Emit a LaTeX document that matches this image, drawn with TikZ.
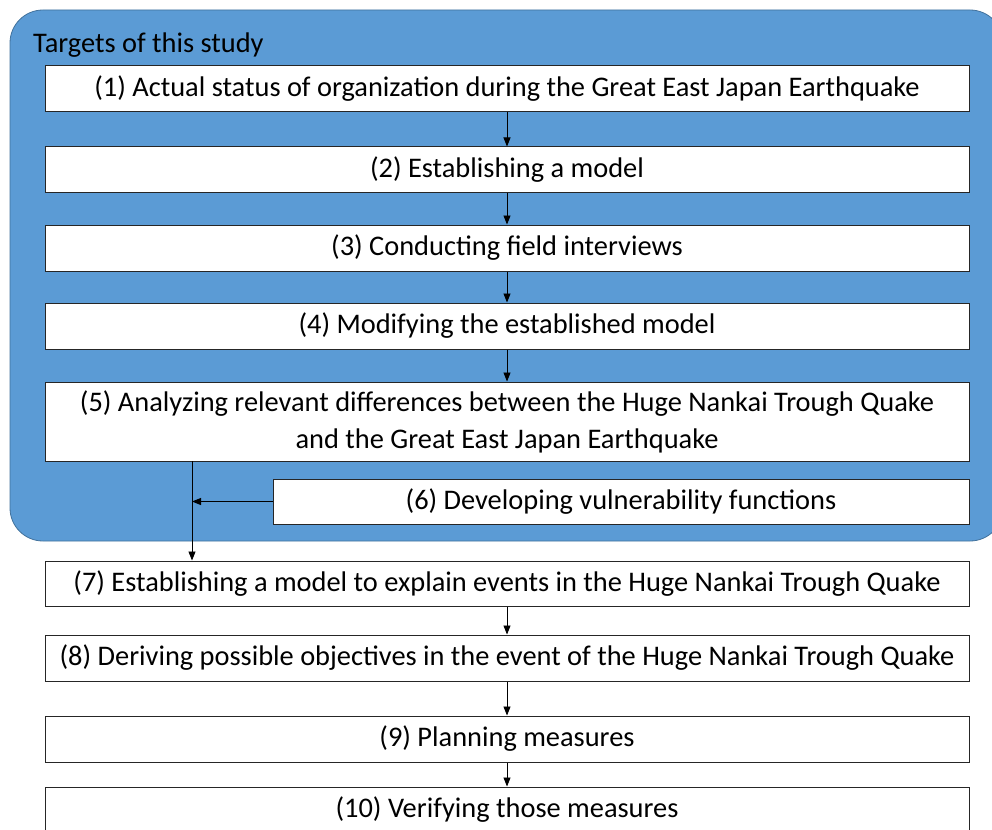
\documentclass[tikz,border=0pt]{standalone}
\usepackage{fontspec}
\setmainfont{Carlito}
\usetikzlibrary{arrows.meta}
\definecolor{panelblue}{HTML}{5B9BD5}
\definecolor{paneledge}{HTML}{41719C}
\definecolor{boxedge}{HTML}{262626}
\begin{document}
\begin{tikzpicture}[x=1pt,y=-1pt,
  stepbox/.style={draw=boxedge,line width=1pt,fill=white,inner sep=0pt,
    minimum width=924pt,align=center,
    font=\fontsize{28.4}{37}\selectfont},
  flow/.style={draw=black,line width=0.8pt,-{Triangle[width=7pt,length=9pt]}}]
\useasboundingbox (0,0) rectangle (992,829);
% study panel
\draw[fill=panelblue,draw=paneledge,line width=0.8pt,rounded corners=33pt]
  (10,10) rectangle (1003,541);
\node[anchor=west,font=\fontsize{28.4}{32}\selectfont,inner sep=0pt] (title) at (33,45) {Targets of this study};
% process steps
\node[stepbox,minimum height=46pt] (s1) at (507,89) {(1) Actual status of organization during the Great East Japan Earthquake};
\node[stepbox,minimum height=45pt] (s2) at (507,169.5) {(2) Establishing a model};
\node[stepbox,minimum height=46pt] (s3) at (507,248) {(3) Conducting field interviews};
\node[stepbox,minimum height=46pt] (s4) at (507,326) {(4) Modifying the established model};
\node[stepbox,minimum height=79pt] (s5) at (507,421.5) {(5) Analyzing relevant differences between the Huge Nankai Trough Quake\\and the Great East Japan Earthquake};
\node[stepbox,minimum height=45pt,minimum width=696pt] (s6) at (621,501.5) {(6) Developing vulnerability functions};
\node[stepbox,minimum height=45pt] (s7) at (507,583.5) {(7) Establishing a model to explain events in the Huge Nankai Trough Quake};
\node[stepbox,minimum height=46pt] (s8) at (507,658) {(8) Deriving possible objectives in the event of the Huge Nankai Trough Quake};
\node[stepbox,minimum height=46pt] (s9) at (507,739) {(9) Planning measures};
\node[stepbox,minimum height=46pt] (s10) at (507,810) {(10) Verifying those measures};
% connectors
\draw[flow] (s1.south) -- (s2.north);
\draw[flow] (s2.south) -- (s3.north);
\draw[flow] (s3.south) -- (s4.north);
\draw[flow] (s4.south) -- (s5.north);
\coordinate (split) at (192,461);
\coordinate (merge) at (192,501.5);
\draw[flow] (split) -- (split |- s7.north);
\draw[flow] (s6.west) -- (merge);
\draw[flow] (s7.south) -- (s8.north);
\draw[flow] (s8.south) -- (s9.north);
\draw[flow] (s9.south) -- (s10.north);
\end{tikzpicture}
\end{document}
